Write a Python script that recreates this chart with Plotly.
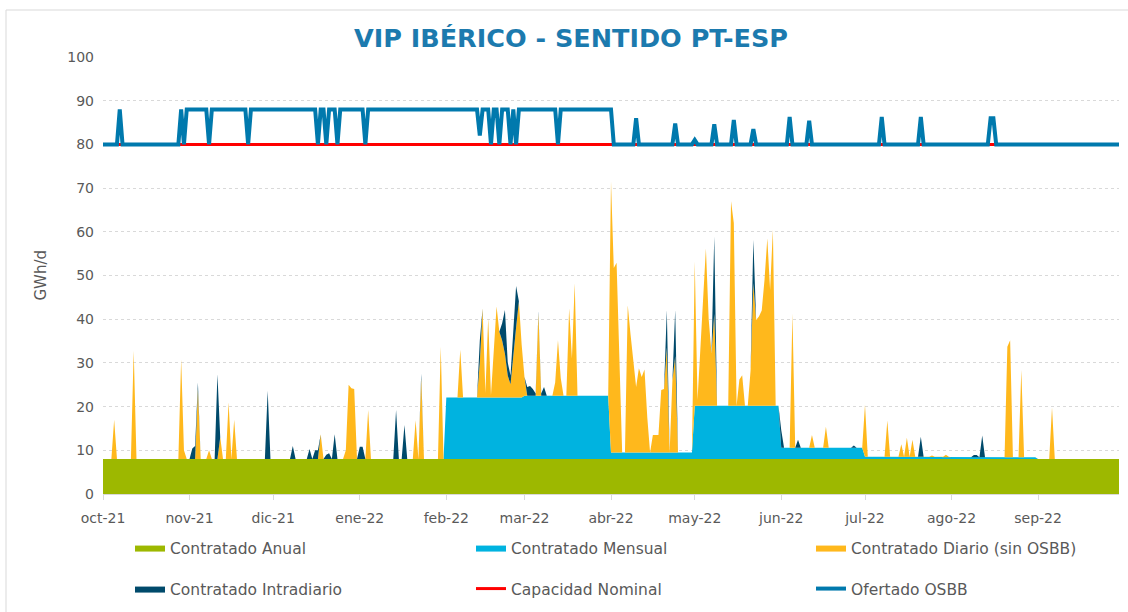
import pandas as pd
import plotly.graph_objects as go

# ---------------- DATA ----------------
meses_inicio = ["2021-10-01", "2021-11-01", "2021-12-01", "2022-01-01", "2022-02-01", "2022-03-01",
                "2022-04-01", "2022-05-01", "2022-06-01", "2022-07-01", "2022-08-01", "2022-09-01"]
meses_etiquetas = ["oct-21", "nov-21", "dic-21", "ene-22", "feb-22", "mar-22",
                   "abr-22", "may-22", "jun-22", "jul-22", "ago-22", "sep-22"]

# Contratado Anual (GWh/d) per month
anual_mes = [8.0, 8.0, 8.0, 8.0, 8.0, 8.0, 8.0, 8.0, 8.0, 8.0, 8.0, 8.0]
# Contratado Mensual (GWh/d) per month
mensual_mes = [0.0, 0.0, 0.0, 0.0, 14.1, 14.5, 1.5, 12.2, 2.6, 0.5, 0.4, 0.0]

# Contratado Diario (sin OSBB) - days with nomination (other days 0)
diario_fechas = [
    "2021-10-05", "2021-10-12", "2021-10-29", "2021-10-30", "2021-11-04", "2021-11-08", "2021-11-12",
    "2021-11-15", "2021-11-17", "2021-12-18", "2021-12-27", "2021-12-28", "2021-12-29", "2021-12-30",
    "2022-01-04", "2022-01-21", "2022-01-23", "2022-01-30", "2022-02-06", "2022-02-13", "2022-02-14",
    "2022-02-15", "2022-02-16", "2022-02-17", "2022-02-18", "2022-02-19", "2022-02-20", "2022-02-21",
    "2022-02-22", "2022-02-23", "2022-02-24", "2022-02-25", "2022-02-26", "2022-02-27", "2022-02-28",
    "2022-03-01", "2022-03-06", "2022-03-12", "2022-03-13", "2022-03-14", "2022-03-17", "2022-03-18",
    "2022-03-19", "2022-04-01", "2022-04-02", "2022-04-03", "2022-04-04", "2022-04-07", "2022-04-08",
    "2022-04-09", "2022-04-10", "2022-04-11", "2022-04-12", "2022-04-13", "2022-04-14", "2022-04-16",
    "2022-04-17", "2022-04-18", "2022-04-19", "2022-04-20", "2022-04-21", "2022-04-23", "2022-04-24",
    "2022-05-01", "2022-05-02", "2022-05-03", "2022-05-04", "2022-05-05", "2022-05-06", "2022-05-07",
    "2022-05-08", "2022-05-14", "2022-05-15", "2022-05-17", "2022-05-18", "2022-05-21", "2022-05-22",
    "2022-05-23", "2022-05-24", "2022-05-25", "2022-05-26", "2022-05-27", "2022-05-28", "2022-05-29",
    "2022-06-05", "2022-06-12", "2022-06-17", "2022-07-01", "2022-07-09", "2022-07-14", "2022-07-16",
    "2022-07-18", "2022-07-25", "2022-07-30", "2022-08-21", "2022-08-22", "2022-08-26", "2022-09-06",
]
diario_valores = [
    9.0, 24.8, 22.8, 2.0, 16.0, 2.0, 5.0,
    13.0, 9.0, 5.7, 2.0, 17.0, 16.2, 16.0,
    11.2, 8.9, 18.5, 25.7, 10.9, 8.0, 20.4,
    1.0, 18.1, 0.5, 10.0, 20.8, 15.0, 13.0,
    10.0, 5.0, 3.0, 10.0, 16.0, 22.0, 12.0,
    4.3, 18.8, 3.0, 12.7, 4.0, 20.0, 8.5,
    25.7, 62.0, 42.2, 43.4, 20.0, 33.7, 27.0,
    20.5, 15.0, 19.3, 17.3, 19.0, 8.0, 4.0,
    4.0, 4.0, 14.3, 14.5, 24.0, 16.5, 22.0,
    33.0, 1.3, 12.8, 24.8, 36.0, 19.8, 12.0,
    21.0, 46.8, 41.8, 6.0, 7.0, 8.0, 28.0,
    19.6, 20.4, 21.8, 28.8, 38.3, 26.5, 40.2,
    30.7, 2.9, 4.8, 11.9, 8.3, 2.9, 4.4,
    3.9, 0.3, 0.5, 25.3, 26.8, 20.0, 11.8,
]

# Contratado Intradiario - days with nomination (other days 0)
intra_fechas = [
    "2021-11-02", "2021-11-03", "2021-11-04", "2021-11-11", "2021-11-29", "2021-12-08", "2021-12-14",
    "2021-12-16", "2021-12-17", "2021-12-20", "2021-12-21", "2021-12-23", "2022-01-01", "2022-01-02",
    "2022-01-14", "2022-01-17", "2022-01-23", "2022-02-13", "2022-02-21", "2022-02-22", "2022-02-23",
    "2022-02-24", "2022-02-25", "2022-02-26", "2022-03-02", "2022-03-03", "2022-03-04", "2022-03-05",
    "2022-03-06", "2022-03-07", "2022-03-08", "2022-04-21", "2022-04-24", "2022-05-08", "2022-05-22",
    "2022-06-01", "2022-06-07", "2022-06-27", "2022-07-21", "2022-08-09", "2022-08-10", "2022-08-12",
]
intra_valores = [
    2.4, 3.0, 1.5, 19.4, 15.6, 3.0, 2.3,
    2.0, 2.0, 1.0, 1.3, 5.7, 2.8, 2.8,
    11.2, 7.8, 1.0, 5.0, 4.0, 10.0, 3.0,
    2.0, 5.0, 9.5, 2.0, 2.2, 1.5, 0.5,
    0.5, 0.5, 2.0, 8.6, 10.6, 17.7, 10.0,
    4.0, 1.8, 0.5, 4.6, 0.5, 0.5, 5.0,
]

capacidad_nominal = 80.0

# Ofertado OSBB: 80 except in these periods
ofertado_base = 80.0
ofertado_desde = [
    "2021-10-07", "2021-10-29", "2021-10-31", "2021-11-09", "2021-11-23", "2021-12-18", "2021-12-21",
    "2021-12-25", "2022-01-04", "2022-02-13", "2022-02-14", "2022-02-18", "2022-02-21", "2022-02-25",
    "2022-02-27", "2022-03-14", "2022-04-10", "2022-04-24", "2022-05-01", "2022-05-08", "2022-05-15",
    "2022-05-22", "2022-06-04", "2022-06-11", "2022-07-07", "2022-07-21", "2022-08-15",
]
ofertado_hasta = [
    "2021-10-07", "2021-10-29", "2021-11-07", "2021-11-21", "2021-12-16", "2021-12-19", "2021-12-23",
    "2022-01-02", "2022-02-12", "2022-02-13", "2022-02-16", "2022-02-19", "2022-02-23", "2022-02-25",
    "2022-03-12", "2022-04-01", "2022-04-10", "2022-04-24", "2022-05-01", "2022-05-08", "2022-05-15",
    "2022-05-22", "2022-06-04", "2022-06-11", "2022-07-07", "2022-07-21", "2022-08-16",
]
ofertado_valor = [
    88.0, 88.0, 88.0, 88.0, 88.0, 88.0, 88.0,
    88.0, 88.0, 82.0, 88.0, 88.0, 88.0, 88.0,
    88.0, 88.0, 86.0, 84.8, 81.0, 84.6, 85.6,
    83.5, 86.3, 85.4, 86.3, 86.3, 86.0,
]

# ---------------- BUILD DAILY SERIES ----------------
fechas = pd.date_range("2021-10-01", "2022-09-30", freq="D")
mes_idx = fechas.to_period("M")
mes_map_anual = {pd.Period(m, "M"): v for m, v in zip(meses_inicio, anual_mes)}
mes_map_mensual = {pd.Period(m, "M"): v for m, v in zip(meses_inicio, mensual_mes)}
anual = pd.Series([mes_map_anual[p] for p in mes_idx], index=fechas)
mensual = pd.Series([mes_map_mensual[p] for p in mes_idx], index=fechas)

diario = pd.Series(0.0, index=fechas)
diario.loc[pd.to_datetime(diario_fechas)] = diario_valores
intra = pd.Series(0.0, index=fechas)
intra.loc[pd.to_datetime(intra_fechas)] = intra_valores

capacidad = pd.Series(capacidad_nominal, index=fechas)
ofertado = pd.Series(ofertado_base, index=fechas)
for d0, d1, v in zip(ofertado_desde, ofertado_hasta, ofertado_valor):
    ofertado.loc[pd.Timestamp(d0):pd.Timestamp(d1)] = v

# ---------------- STYLE ----------------
FONT = "DejaVu Sans"
GRAY = "#595959"
GRID = "#D9D9D9"
C_ANUAL = "#9DB800"
C_MENSUAL = "#00B3E0"
C_DIARIO = "#FFB81C"
C_INTRA = "#004A6B"
C_CAP = "#FF0000"
C_OSBB = "#0079AD"
C_TITLE = "#1C7AAE"

W, H = 1128, 612
PLOT_L, PLOT_R, PLOT_T, PLOT_B = 103, 1119, 57, 494
PW, PH = PLOT_R - PLOT_L, PLOT_B - PLOT_T

def px_x(x):
    return (x - PLOT_L) / PW

def px_y(y):
    return (PLOT_B - y) / PH

# legend slots: (legend id, left px, row centre px)
slots = [("legend", 130, 548), ("legend2", 471, 548), ("legend3", 811, 548),
         ("legend4", 130, 589), ("legend5", 471, 589), ("legend6", 811, 589)]

fig = go.Figure()
areas = [
    ("Contratado Anual", anual, C_ANUAL),
    ("Contratado Mensual", mensual, C_MENSUAL),
    ("Contratado Diario (sin OSBB)", diario, C_DIARIO),
    ("Contratado Intradiario", intra, C_INTRA),
]
for i, (name, s, c) in enumerate(areas):
    fig.add_trace(go.Scatter(
        x=s.index, y=s.values, name=name, mode="lines", stackgroup="contr",
        line=dict(width=0, color=c), fillcolor=c, legend=slots[i][0],
    ))

fig.add_trace(go.Scatter(
    x=capacidad.index, y=capacidad.values, name="Capacidad Nominal", mode="lines",
    line=dict(width=3, color=C_CAP), legend=slots[4][0],
))
fig.add_trace(go.Scatter(
    x=ofertado.index, y=ofertado.values, name="Ofertado OSBB", mode="lines",
    line=dict(width=4, color=C_OSBB), legend=slots[5][0],
))

legends = {}
for lid, lx, ly in slots:
    legends[lid] = dict(
        orientation="h", xref="container", yref="container",
        xanchor="left", x=lx / W, yanchor="middle", y=1 - ly / H,
        itemwidth=30, font=dict(family=FONT, size=15.5, color=GRAY),
        bgcolor="rgba(0,0,0,0)", borderwidth=0,
    )

fig.update_layout(
    width=W, height=H,
    margin=dict(l=PLOT_L, r=W - PLOT_R, t=PLOT_T, b=H - PLOT_B),
    paper_bgcolor="white", plot_bgcolor="white",
    font=dict(family=FONT, color=GRAY),
    title=dict(text="<b>VIP IBÉRICO - SENTIDO PT-ESP</b>", x=571 / W, xanchor="center",
               y=1 - 38 / H, yanchor="middle", yref="container",
               font=dict(family=FONT, size=25.5, color=C_TITLE)),
    showlegend=True,
    xaxis=dict(
        range=[fechas[0], fechas[-1]], tickvals=pd.to_datetime(meses_inicio), ticktext=meses_etiquetas,
        showgrid=False, showline=True, linecolor=GRID, linewidth=1, automargin=False,
        ticks="outside", ticklen=5, tickcolor=GRID,
        tickfont=dict(family=FONT, size=14, color=GRAY), ticklabelstandoff=6,
    ),
    yaxis=dict(
        range=[0, 100], dtick=10, showgrid=True, gridcolor=GRID, griddash="dot", gridwidth=1,
        zeroline=False, showline=False, ticks="", automargin=False,
        tickfont=dict(family=FONT, size=14, color=GRAY), ticklabelstandoff=8,
    ),
    annotations=[dict(text="GWh/d", xref="paper", yref="paper", x=px_x(40), y=0.5,
                      textangle=-90, showarrow=False, xanchor="center", yanchor="middle",
                      font=dict(family=FONT, size=15, color=GRAY))],
    shapes=[dict(type="rect", xref="paper", yref="paper",
                 x0=px_x(6), x1=px_x(1140), y0=px_y(640), y1=px_y(10),
                 line=dict(color=GRID, width=1), fillcolor="rgba(0,0,0,0)", layer="below")],
    **legends,
)

fig.write_html(
    "out.html",
    config={"displayModeBar": False},
    post_script="document.body.style.margin='0px'; document.body.style.overflow='hidden';",
)
